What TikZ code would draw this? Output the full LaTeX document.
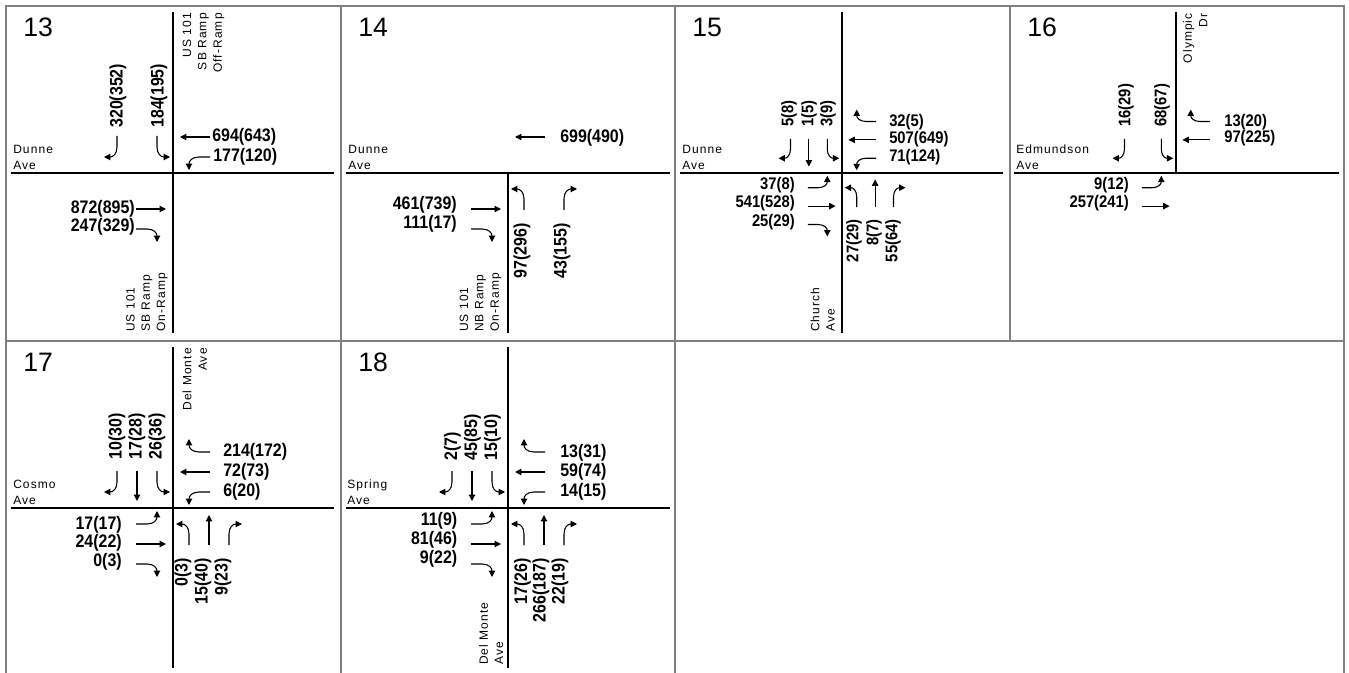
\documentclass[tikz,border=0pt]{standalone}
\usepackage{fontspec}
\setmainfont{Liberation Sans}
\newfontfamily\streetfam[LetterSpace=9]{Liberation Sans}
\newfontfamily\volfam[FakeStretch=0.88]{Liberation Sans}
\usetikzlibrary{arrows.meta}
\definecolor{gridgray}{RGB}{128,128,128}
\newcommand\volL{\volfam\fontsize{13.6}{15}\selectfont\bfseries}
\newcommand\volS{\volfam\fontsize{12.6}{14}\selectfont\bfseries}
\newcommand\stfont{\streetfam\fontsize{9}{11.5}\selectfont}
\newcommand\pnfont{\fontsize{20}{23}\selectfont}
\tikzset{
  vol/.style={font=\volL, inner sep=0pt},
  vols/.style={font=\volS, inner sep=0pt},
  street/.style={font=\stfont, inner sep=0pt},
  pnum/.style={font=\pnfont, inner sep=0pt},
  road/.style={line width=1.4pt, line cap=rect},
  gridline/.style={draw=gridgray, line width=1.3pt},
  mv/.style={line width=0.8pt, -{Triangle[length=4.8pt,width=4.8pt]}},
  lta/.pic={\draw[mv] (16,37) -- (16,26) .. controls (16,19) and (12,16) .. (3,16);},
  tha/.pic={\draw[mv] (36,37) -- (36,7);},
  rta/.pic={\draw[mv] (56,37) -- (56,26) .. controls (56,19) and (60,16) .. (69,16);},
}
\begin{document}
\begin{tikzpicture}[x=0.75pt, y=-0.75pt]
\useasboundingbox (0,0) rectangle (1349,673);
% grid
\draw[gridline] (6,6) rectangle (1344,341);
\draw[gridline] (341,6) -- (341,673);
\draw[gridline] (675,6) -- (675,673);
\draw[gridline] (1010,6) -- (1010,341);
\draw[gridline] (6,341) -- (6,673);
\draw[gridline] (1344,341) -- (1344,673);
% panel numbers
\node[pnum, anchor=base west] (n13) at (23,37) {13};
\node[pnum, anchor=base west] (n14) at (358,37) {14};
\node[pnum, anchor=base west] (n15) at (692,37) {15};
\node[pnum, anchor=base west] (n16) at (1027,37) {16};
\node[pnum, anchor=base west] (n17) at (23,372) {17};
\node[pnum, anchor=base west] (n18) at (358,372) {18};

% ---------------- 13
\begin{scope}[shift={(173,173)}]
\draw[road] (-161,0) -- (160,0);
\draw[road] (0,-160) -- (0,159);
\pic[rotate=180] at (0,0) {rta};
\pic[rotate=180] at (0,0) {lta};
\pic[rotate=90] at (0,0) {tha};
\pic[rotate=90] at (0,0) {lta};
\pic[rotate=-90] at (0,0) {tha};
\pic[rotate=-90] at (0,0) {rta};
\node[vol, rotate=90, anchor=west] (a13s1) at (-55,-45) {320(352)};
\node[vol, rotate=90, anchor=west] (a13s2) at (-14,-45) {184(195)};
\node[vol, anchor=west] (a13w1) at (39,-36) {694(643)};
\node[vol, anchor=west] (a13w2) at (40,-16) {177(120)};
\node[vol, anchor=east] (a13e1) at (-38,36) {872(895)};
\node[vol, anchor=east] (a13e2) at (-38,54) {247(329)};
\node[street, align=left, anchor=south west] (s13a) at (-160,-3.5) {Dunne\\Ave};
\node[street, rotate=90, align=right, anchor=north east] (s13b) at (9.5,-160) {US 101\\SB Ramp\\Off-Ramp};
\node[street, rotate=90, align=left, anchor=south west] (s13c) at (-5,159) {US 101\\SB Ramp\\On-Ramp};
\end{scope}

% ---------------- 14
\begin{scope}[shift={(508,173)}]
\draw[road] (-161,0) -- (161,0);
\draw[road] (0,0) -- (0,159);
\pic[rotate=90] at (0,0) {tha};
\pic[rotate=-90] at (0,0) {tha};
\pic[rotate=-90] at (0,0) {rta};
\pic at (0,0) {lta};
\pic at (0,0) {rta};
\node[vol, anchor=west] (a14w1) at (52,-35) {699(490)};
\node[vol, anchor=east] (a14e1) at (-51,32) {461(739)};
\node[vol, anchor=east] (a14e2) at (-51,51) {111(17)};
\node[vol, rotate=90, anchor=east] (a14n1) at (14,50) {97(296)};
\node[vol, rotate=90, anchor=east] (a14n2) at (54,50) {43(155)};
\node[street, align=left, anchor=south west] (s14a) at (-160,-3.5) {Dunne\\Ave};
\node[street, rotate=90, align=left, anchor=south west] (s14c) at (-6.5,159) {US 101\\NB Ramp\\On-Ramp};
\end{scope}

% ---------------- 15
\begin{scope}[shift={(842,173)}]
\draw[road] (-161,0) -- (160,0);
\draw[road] (0,-160) -- (0,159);
\foreach \r in {180,90,-90,0}{
  \pic[rotate=\r, scale=0.92] at (0,0) {lta};
  \pic[rotate=\r, scale=0.92] at (0,0) {tha};
  \pic[rotate=\r, scale=0.92] at (0,0) {rta};
}
\node[vols, rotate=90, anchor=west] (a15s1) at (-53,-46) {5(8)};
\node[vols, rotate=90, anchor=west] (a15s2) at (-33,-46) {1(5)};
\node[vols, rotate=90, anchor=west] (a15s3) at (-14,-46) {3(9)};
\node[vols, anchor=west] (a15w1) at (47,-51) {32(5)};
\node[vols, anchor=west] (a15w2) at (47,-34) {507(649)};
\node[vols, anchor=west] (a15w3) at (47,-16) {71(124)};
\node[vols, anchor=east] (a15e1) at (-47,12) {37(8)};
\node[vols, anchor=east] (a15e2) at (-47,30) {541(528)};
\node[vols, anchor=east] (a15e3) at (-47,49) {25(29)};
\node[vols, rotate=90, anchor=east] (a15n1) at (12,46) {27(29)};
\node[vols, rotate=90, anchor=east] (a15n2) at (32,46) {8(7)};
\node[vols, rotate=90, anchor=east] (a15n3) at (51,46) {55(64)};
\node[street, align=left, anchor=south west] (s15a) at (-160,-3.5) {Dunne\\Ave};
\node[street, rotate=90, align=left, anchor=south west] (s15c) at (-7,159) {Church\\Ave};
\end{scope}

% ---------------- 16
\begin{scope}[shift={(1176,173)}]
\draw[road] (-161,0) -- (162,0);
\draw[road] (0,-160) -- (0,0);
\pic[rotate=180, scale=0.92] at (0,0) {rta};
\pic[rotate=180, scale=0.92] at (0,0) {lta};
\pic[rotate=90, scale=0.92] at (0,0) {rta};
\pic[rotate=90, scale=0.92] at (0,0) {tha};
\pic[rotate=-90, scale=0.92] at (0,0) {lta};
\pic[rotate=-90, scale=0.92] at (0,0) {tha};
\node[vols, rotate=90, anchor=west] (a16s1) at (-50,-46) {16(29)};
\node[vols, rotate=90, anchor=west] (a16s2) at (-14,-46) {68(67)};
\node[vols, anchor=west] (a16w1) at (48,-51) {13(20)};
\node[vols, anchor=west] (a16w2) at (48,-34.5) {97(225)};
\node[vols, anchor=east] (a16e1) at (-47,12) {9(12)};
\node[vols, anchor=east] (a16e2) at (-47,30) {257(241)};
\node[street, align=left, anchor=south west] (s16a) at (-160,-3.5) {Edmundson\\Ave};
\node[street, rotate=90, align=right, anchor=north east] (s16b) at (7,-160) {Olympic\\Dr};
\end{scope}

% ---------------- 17
\begin{scope}[shift={(173,508)}]
\draw[road] (-161,0) -- (160,0);
\draw[road] (0,-160) -- (0,159);
\foreach \r in {180,90,-90,0}{
  \pic[rotate=\r] at (0,0) {lta};
  \pic[rotate=\r] at (0,0) {tha};
  \pic[rotate=\r] at (0,0) {rta};
}
\node[vol, rotate=90, anchor=west] (a17s1) at (-56,-48.5) {10(30)};
\node[vol, rotate=90, anchor=west] (a17s2) at (-36,-48.5) {17(28)};
\node[vol, rotate=90, anchor=west] (a17s3) at (-16,-48.5) {26(36)};
\node[vol, anchor=west] (a17w1) at (50,-56) {214(172)};
\node[vol, anchor=west] (a17w2) at (50,-36) {72(73)};
\node[vol, anchor=west] (a17w3) at (50,-16) {6(20)};
\node[vol, anchor=east] (a17e1) at (-51,17) {17(17)};
\node[vol, anchor=east] (a17e2) at (-51,35) {24(22)};
\node[vol, anchor=east] (a17e3) at (-51,54) {0(3)};
\node[vol, rotate=90, anchor=east] (a17n1) at (10,50) {0(3)};
\node[vol, rotate=90, anchor=east] (a17n2) at (30,50) {15(40)};
\node[vol, rotate=90, anchor=east] (a17n3) at (50,50) {9(23)};
\node[street, align=left, anchor=south west] (s17a) at (-160,-3.5) {Cosmo\\Ave};
\node[street, rotate=90, align=right, anchor=north east] (s17b) at (9.5,-160) {Del Monte\\Ave};
\end{scope}

% ---------------- 18
\begin{scope}[shift={(508,508)}]
\draw[road] (-161,0) -- (161,0);
\draw[road] (0,-160) -- (0,159);
\foreach \r in {180,90,-90,0}{
  \pic[rotate=\r] at (0,0) {lta};
  \pic[rotate=\r] at (0,0) {tha};
  \pic[rotate=\r] at (0,0) {rta};
}
\node[vol, rotate=90, anchor=west] (a18s1) at (-55.5,-47.5) {2(7)};
\node[vol, rotate=90, anchor=west] (a18s2) at (-35.5,-47.5) {45(85)};
\node[vol, rotate=90, anchor=west] (a18s3) at (-15.5,-47.5) {15(10)};
\node[vol, anchor=west] (a18w1) at (52,-55.5) {13(31)};
\node[vol, anchor=west] (a18w2) at (52,-36) {59(74)};
\node[vol, anchor=west] (a18w3) at (52,-16) {14(15)};
\node[vol, anchor=east] (a18e1) at (-50.5,12.5) {11(9)};
\node[vol, anchor=east] (a18e2) at (-50.5,31.5) {81(46)};
\node[vol, anchor=east] (a18e3) at (-50.5,50.5) {9(22)};
\node[vol, rotate=90, anchor=east] (a18n1) at (14.5,50) {17(26)};
\node[vol, rotate=90, anchor=east] (a18n2) at (33,50) {266(187)};
\node[vol, rotate=90, anchor=east] (a18n3) at (52,50) {22(19)};
\node[street, align=left, anchor=south west] (s18a) at (-161,-3.5) {Spring\\Ave};
\node[street, rotate=90, align=left, anchor=south west] (s18c) at (-4.5,157) {Del Monte\\Ave};
\end{scope}
\end{tikzpicture}
\end{document}
